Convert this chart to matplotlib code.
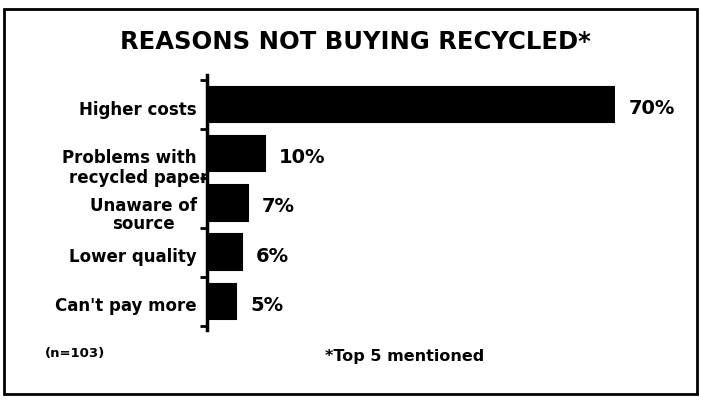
import matplotlib
matplotlib.use("Agg")
import matplotlib.pyplot as plt
from matplotlib.patches import Rectangle

# Data
reasons = ["Higher costs", "Problems with\nrecycled paper", "Unaware of\nsource",
           "Lower quality", "Can't pay more"]
percent = [70, 10, 7, 6, 5]
value_labels = ["70%", "10%", "7%", "6%", "5%"]

title = "REASONS NOT BUYING RECYCLED*"
sample_note = "(n=103)"
top_note = "*Top 5 mentioned"

plt.rcParams["font.family"] = ["DejaVu Sans"]
plt.rcParams["font.weight"] = "bold"

W, H = 701, 401
fig = plt.figure(figsize=(W / 100, H / 100), dpi=100)
fig.patch.set_facecolor("white")

# axes in pixel positions (x: 0% at 207px, 70% at 615px)
left, right = 207, 615
top, bottom = 75, 330
ax = fig.add_axes([left / W, 1 - bottom / H, (right - left) / W, (bottom - top) / H])

y = list(range(len(reasons)))
ax.barh(y, percent, height=0.72, color="black", edgecolor="black", linewidth=1.5, zorder=3)

ax.set_xlim(0, 70)
ax.set_ylim(len(reasons) - 0.42, -0.6)

for s in ["top", "right", "bottom"]:
    ax.spines[s].set_visible(False)
ax.spines["left"].set_linewidth(2.5)
ax.spines["left"].set_zorder(4)
ax.set_xticks([])
ax.set_yticks([i - 0.5 for i in range(len(reasons) + 1)])
ax.set_yticklabels([])
ax.tick_params(axis="y", direction="out", length=5, width=2)

# category labels
for i, lab in enumerate(reasons):
    if lab.startswith("Problems"):
        # the second line runs into the axis in the original
        first, second = lab.split("\n")
        ax.annotate(first, xy=(0, i), xytext=(-10, -4), textcoords="offset pixels",
                    ha="right", va="center", fontsize=12, fontweight="bold", zorder=1)
        ax.annotate(second, xy=(0, i), xytext=(1, -24), textcoords="offset pixels",
                    ha="right", va="center", fontsize=12, fontweight="bold", zorder=1)
        continue
    dy = -12 if "\n" in lab else -5
    ax.annotate(lab, xy=(0, i), xytext=(-10, dy), textcoords="offset pixels",
                ha="right", va="center", multialignment="center",
                fontsize=12, fontweight="bold", linespacing=1.0, zorder=1)

# value labels
for i, (v, lab) in enumerate(zip(percent, value_labels)):
    ax.annotate(lab, xy=(v, i), xytext=(14, -4), textcoords="offset pixels",
                ha="left", va="center", fontsize=14, fontweight="bold",
                annotation_clip=False)

fig.text(355 / W, 1 - 42 / H, title, ha="center", va="center",
         fontsize=17.5, fontweight="bold")
fig.text(45 / W, 1 - 354 / H, sample_note, ha="left", va="center",
         fontsize=9.5, fontweight="bold")
fig.text(325 / W, 1 - 357 / H, top_note, ha="left", va="center",
         fontsize=11.5, fontweight="bold")

# frame around the chart
fig.patches.append(Rectangle((4 / W, 1 - 394 / H), 693 / W, 385 / H,
                             transform=fig.transFigure, fill=False,
                             edgecolor="black", linewidth=2))

fig.savefig("out.png", dpi=100)
